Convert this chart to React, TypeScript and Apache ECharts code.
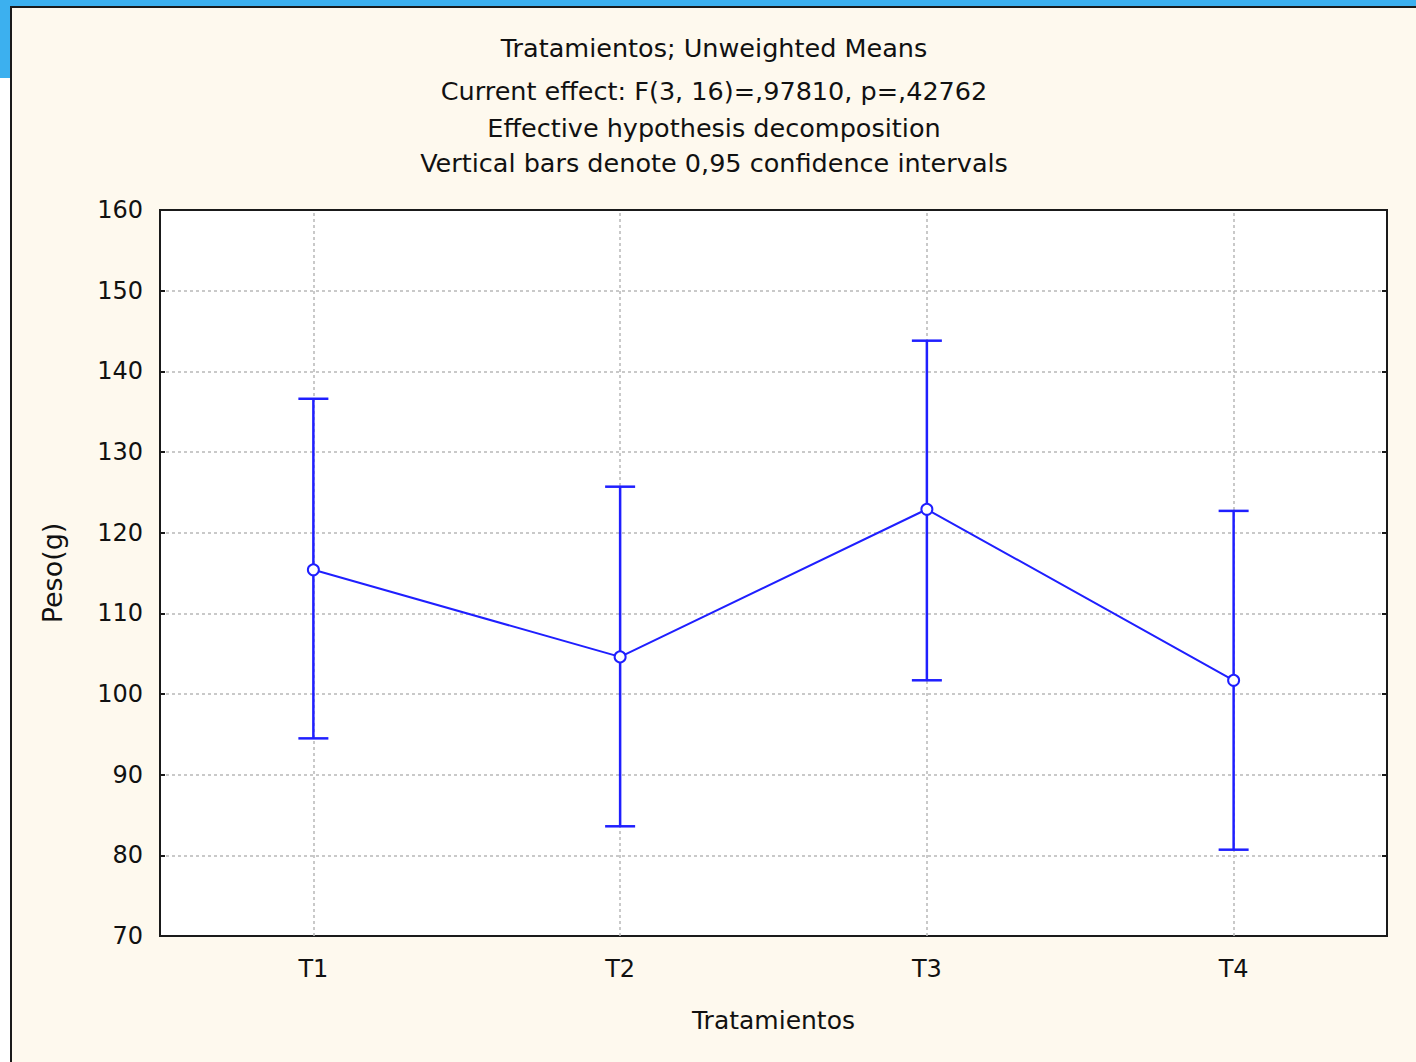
import React, { useEffect, useRef } from "react";
import * as echarts from "echarts";

const categories = ["T1", "T2", "T3", "T4"];
const means = [115.4, 104.6, 122.9, 101.7];
const lower = [94.5, 83.6, 101.7, 80.7];
const upper = [136.6, 125.7, 143.8, 122.7];
const titleLines = [
  "Tratamientos; Unweighted Means",
  "Current effect: F(3, 16)=,97810, p=,42762",
  "Effective hypothesis decomposition",
  "Vertical bars denote 0,95 confidence intervals",
];
const titleTops = [30, 73, 110, 145];

const FONT = "DejaVu Sans";
const BLUE = "#1f1fff";
const GRIDC = "#b8b8b8";
const INK = "#111111";

export default function App() {
  const ref = useRef<HTMLDivElement>(null);
  useEffect(() => {
    const chart = echarts.init(ref.current!, null, { renderer: "svg" });
    const errData = categories.map((c, i) => [i, lower[i], upper[i]]);
    const option: any = {
      animation: false,
      backgroundColor: "#ffffff",
      textStyle: { fontFamily: FONT },
      graphic: [
        { type: "rect", z: -10, shape: { x: 0, y: 0, width: 1416, height: 7 }, style: { fill: "#3cb0ef" } },
        { type: "rect", z: -10, shape: { x: 0, y: 0, width: 11, height: 78 }, style: { fill: "#3cb0ef" } },
        { type: "rect", z: -9, shape: { x: 11, y: 7, width: 1420, height: 1070 }, style: { fill: "#fef9ee", stroke: "#1a1a1a", lineWidth: 2 } },
        { type: "rect", z: -8, shape: { x: 160, y: 210, width: 1227, height: 726 }, style: { fill: "#ffffff" } },
      ],
      title: titleLines.map((t, i) => ({
        text: t,
        left: 709,
        textAlign: "center",
        top: titleTops[i],
        textStyle: { fontFamily: FONT, fontSize: 25.5, fontWeight: "normal", color: INK },
      })),
      grid: { left: 160, top: 210, width: 1227, height: 726, show: true, borderColor: "#1a1a1a", borderWidth: 2, backgroundColor: "transparent" },
      xAxis: [
        {
          type: "category",
          data: categories,
          position: "bottom",
          axisLine: { lineStyle: { color: "#1a1a1a", width: 2 } },
          axisTick: { inside: true, alignWithLabel: true, length: 5, lineStyle: { color: "#1a1a1a", width: 2 } },
          axisLabel: { fontFamily: FONT, fontSize: 24, color: INK, margin: 21 },
          splitLine: { show: false },
          name: "Tratamientos",
          nameLocation: "middle",
          nameGap: 72,
          nameTextStyle: { fontFamily: FONT, fontSize: 25, color: INK },
        },
        {
          type: "category",
          data: categories,
          position: "top",
          axisLine: { lineStyle: { color: "#1a1a1a", width: 2 } },
          axisTick: { inside: true, alignWithLabel: true, length: 5, lineStyle: { color: "#1a1a1a", width: 2 } },
          axisLabel: { show: false },
          splitLine: { show: false },
        },
      ],
      yAxis: [
        {
          type: "value",
          min: 70,
          max: 160,
          interval: 10,
          position: "left",
          axisLine: { show: true, lineStyle: { color: "#1a1a1a", width: 2 } },
          axisTick: { show: true, inside: true, length: 5, lineStyle: { color: "#1a1a1a", width: 2 } },
          axisLabel: { fontFamily: FONT, fontSize: 24, color: INK, margin: 17 },
          splitLine: { show: true, lineStyle: { color: GRIDC, type: [3, 3], width: 1.5 } },
          name: "Peso(g)",
          nameLocation: "middle",
          nameGap: 94,
          nameRotate: 90,
          nameTextStyle: { fontFamily: FONT, fontSize: 27, color: INK },
        },
        {
          type: "value",
          min: 70,
          max: 160,
          interval: 10,
          position: "right",
          axisLine: { show: true, lineStyle: { color: "#1a1a1a", width: 2 } },
          axisTick: { show: true, inside: true, length: 5, lineStyle: { color: "#1a1a1a", width: 2 } },
          axisLabel: { show: false },
          splitLine: { show: false },
        },
      ],
      series: [
        {
          type: "custom",
          xAxisIndex: 0,
          yAxisIndex: 0,
          z: 3,
          data: errData,
          renderItem: (params: any, api: any) => {
            const x = api.value(0);
            const lo = api.coord([x, api.value(1)]);
            const hi = api.coord([x, api.value(2)]);
            const hw = 15;
            const style = { stroke: BLUE, lineWidth: 2.5 };
            return {
              type: "group",
              children: [
                { type: "line", shape: { x1: lo[0], y1: lo[1], x2: hi[0], y2: hi[1] }, style },
                { type: "line", shape: { x1: lo[0] - hw, y1: lo[1], x2: lo[0] + hw, y2: lo[1] }, style },
                { type: "line", shape: { x1: hi[0] - hw, y1: hi[1], x2: hi[0] + hw, y2: hi[1] }, style },
              ],
            };
          },
        },
        {
          type: "line",
          xAxisIndex: 0,
          yAxisIndex: 0,
          z: 4,
          data: means,
          symbol: "circle",
          symbolSize: 11,
          itemStyle: { color: "#ffffff", borderColor: BLUE, borderWidth: 2 },
          lineStyle: { color: BLUE, width: 2 },
          markLine: {
            silent: true,
            symbol: "none",
            label: { show: false },
            z: 1,
            lineStyle: { color: GRIDC, type: [3, 3], width: 1.5 },
            data: categories.map((c) => ({ xAxis: c })),
          },
        },
      ],
    };
    chart.setOption(option);
    return () => chart.dispose();
  }, []);
  return (
    <div
      ref={ref}
      style={{ position: "absolute", left: 0, top: 0, width: 1416, height: 1062 }}
    />
  );
}
